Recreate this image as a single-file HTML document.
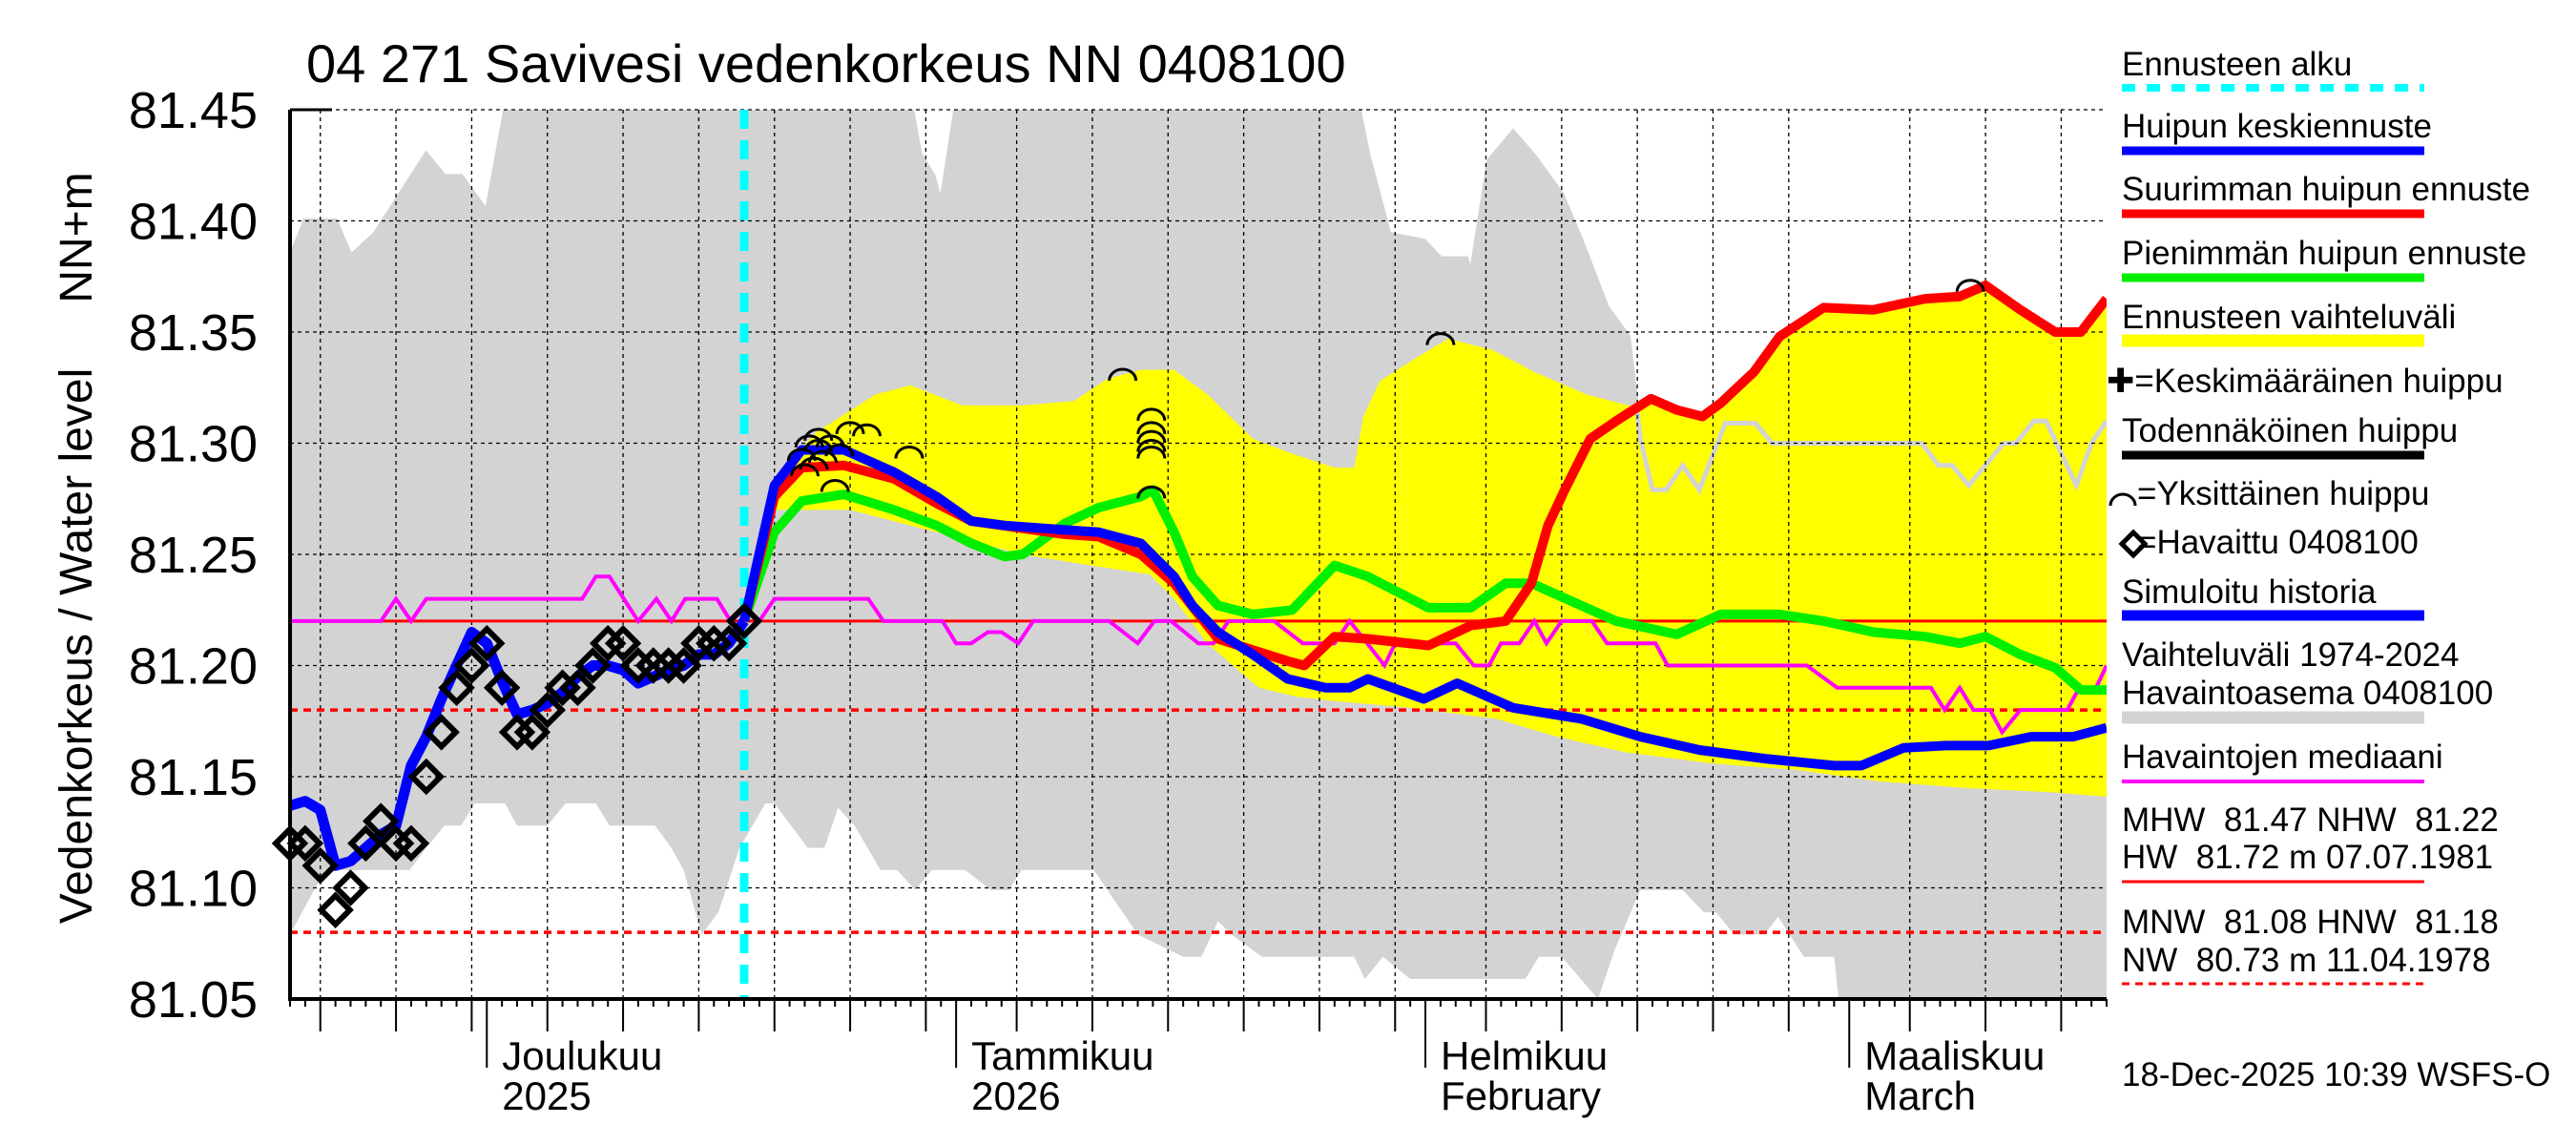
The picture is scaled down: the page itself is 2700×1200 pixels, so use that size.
<!DOCTYPE html>
<html><head><meta charset="utf-8"><style>
html,body{margin:0;padding:0;background:#fff;}
svg{display:block;font-family:"Liberation Sans",Arial,sans-serif;}
</style></head><body>
<svg id="chart" width="2700" height="1200" viewBox="0 0 2700 1200" xmlns="http://www.w3.org/2000/svg">
<defs><clipPath id="plotclip"><rect x="304" y="115" width="1904" height="932"/></clipPath></defs>
<text x="321" y="86" font-size="56">04 271 Savivesi vedenkorkeus NN 0408100</text>
<text transform="translate(96,677) rotate(-90)" text-anchor="middle" font-size="48">Vedenkorkeus / Water level</text>
<text transform="translate(96,249) rotate(-90)" text-anchor="middle" font-size="48">NN+m</text>
<g id="bands" clip-path="url(#plotclip)"></g>
<g id="grid"></g>
<g id="series" clip-path="url(#plotclip)"></g>
<g id="marks"></g>
<g id="axes"></g>
<g id="legend" font-size="35">
<text x="2224" y="79">Ennusteen alku</text>
<line x1="2224" y1="92" x2="2541" y2="92" stroke="#00ffff" stroke-width="8" stroke-dasharray="14,12"/>
<text x="2224" y="144">Huipun keskiennuste</text>
<line x1="2224" y1="158" x2="2541" y2="158" stroke="#0000ff" stroke-width="9"/>
<text x="2224" y="210">Suurimman huipun ennuste</text>
<line x1="2224" y1="224" x2="2541" y2="224" stroke="#ff0000" stroke-width="9"/>
<text x="2224" y="277">Pienimmän huipun ennuste</text>
<line x1="2224" y1="291" x2="2541" y2="291" stroke="#00ee00" stroke-width="9"/>
<text x="2224" y="344">Ennusteen vaihteluväli</text>
<line x1="2224" y1="357" x2="2541" y2="357" stroke="#ffff00" stroke-width="13"/>
<text x="2208" y="411">✚=Keskimääräinen huippu</text>
<text x="2224" y="463">Todennäköinen huippu</text>
<line x1="2224" y1="477" x2="2541" y2="477" stroke="#000" stroke-width="9"/>
<path d="M2212,530 a13,12 0 0 1 26,0" fill="none" stroke="#000" stroke-width="3"/>
<text x="2240" y="529">=Yksittäinen huippu</text>
<path d="M2224,570 l12,-12 l12,12 l-12,12 z" fill="none" stroke="#000" stroke-width="5"/>
<text x="2240" y="580">=Havaittu 0408100</text>
<text x="2224" y="632">Simuloitu historia</text>
<line x1="2224" y1="645" x2="2541" y2="645" stroke="#0000ff" stroke-width="11"/>
<text x="2224" y="698">Vaihteluväli 1974-2024</text>
<text x="2224" y="738">Havaintoasema 0408100</text>
<line x1="2224" y1="752" x2="2541" y2="752" stroke="#d3d3d3" stroke-width="13"/>
<text x="2224" y="805">Havaintojen mediaani</text>
<line x1="2224" y1="819" x2="2541" y2="819" stroke="#ff00ff" stroke-width="4"/>
<text x="2224" y="871" xml:space="preserve">MHW  81.47 NHW  81.22</text>
<text x="2224" y="910" xml:space="preserve">HW  81.72 m 07.07.1981</text>
<line x1="2224" y1="924" x2="2541" y2="924" stroke="#ff0000" stroke-width="3"/>
<text x="2224" y="978" xml:space="preserve">MNW  81.08 HNW  81.18</text>
<text x="2224" y="1018" xml:space="preserve">NW  80.73 m 11.04.1978</text>
<line x1="2224" y1="1031" x2="2541" y2="1031" stroke="#ff0000" stroke-width="3" stroke-dasharray="8,6"/>
<text x="2224" y="1138">18-Dec-2025 10:39 WSFS-O</text>
</g>
</svg>
<script>
// ---- data (day index: 0 = 18 Nov 2025) ----
const yTicks = [81.05,81.10,81.15,81.20,81.25,81.30,81.35,81.40,81.45];
const obsValues = [81.12,81.12,81.11,81.09,81.10,81.12,81.13,81.12,81.12,81.15,81.17,81.19,81.20,81.21,81.19,81.17,81.17,81.18,81.19,81.19,81.20,81.21,81.21,81.20,81.20,81.20,81.20,81.21,81.21,81.21,81.22];
const simValues = [81.137,81.139,81.135,81.11,81.112,81.118,81.124,81.128,81.155,81.168,81.185,81.2,81.215,81.21,81.193,81.178,81.18,81.183,81.188,81.195,81.2,81.2,81.198,81.192,81.195,81.198,81.2,81.205,81.205,81.21,81.22];
const greyUpDays = [0,1,3,4,5.6,9,10.2,11.3,13,14.5,40.8,41.6,42.5,43,44.2,70.3,71.2,72.6,74.9,76,77.7,78,79.2,80.8,82.2,84,85.3,87,88.4,89.2,90,90.9,92,93.1,94.8,96.8,97.9,107.8,108.9,109.8,110.9,113.2,114,115.2,116,118,119,120];
const greyUpValues = [81.383,81.40,81.40,81.384,81.394,81.43,81.42,81.42,81.404,81.46,81.46,81.43,81.42,81.407,81.46,81.46,81.43,81.394,81.391,81.383,81.383,81.375,81.427,81.44,81.429,81.412,81.391,81.361,81.348,81.302,81.279,81.279,81.29,81.279,81.309,81.309,81.30,81.30,81.29,81.29,81.281,81.30,81.30,81.31,81.31,81.281,81.30,81.31];
const greyLoDays = [0,0.8,2.3,7.9,9,10.2,11.3,12.2,14.2,15,17,18.2,20.2,21.1,24.1,25.2,26,27.2,28.3,29.7,31.4,32,34.2,35.3,36.2,37.3,39,40.1,41.3,42.4,44.6,46.3,47.5,48.3,53.1,56,59,60.2,61.3,62.2,64.2,70.3,71,72.2,74,81.6,82.5,84,86.4,87.5,89.2,92,93.4,94.2,95.4,97.4,98.3,100,102,102.3,120];
const greyLoValues = [81.079,81.089,81.108,81.108,81.118,81.128,81.128,81.138,81.138,81.128,81.128,81.138,81.138,81.128,81.128,81.118,81.108,81.079,81.089,81.118,81.138,81.138,81.118,81.118,81.136,81.128,81.108,81.108,81.099,81.108,81.108,81.099,81.099,81.108,81.108,81.079,81.069,81.069,81.085,81.079,81.069,81.069,81.059,81.069,81.059,81.059,81.069,81.069,81.05,81.072,81.099,81.099,81.089,81.089,81.079,81.079,81.087,81.069,81.069,81.05,81.05];
const yelUpDays = [30,32.5,34.8,38.7,41,44.4,48.4,51.8,54,56.2,58.4,60.6,63.6,65.9,69,70.3,70.9,72,74.3,76.5,79.4,82.2,85.6,89,89.9,91.6,93.3,94.5,96.7,98.4,101.3,104.6,108,110.3,112,114.3,116.6,118.3,120];
const yelUpValues = [81.22,81.289,81.305,81.322,81.326,81.317,81.317,81.319,81.329,81.333,81.333,81.322,81.302,81.296,81.289,81.289,81.312,81.328,81.338,81.347,81.342,81.332,81.322,81.316,81.32,81.315,81.312,81.318,81.332,81.348,81.361,81.36,81.365,81.366,81.371,81.36,81.35,81.35,81.365];
const yelLoDays = [30,32,37,42.7,48.4,52.9,56.8,58.4,60.6,62.8,64,66.5,69,74,79.7,83.7,88.2,93.9,99.6,104.9,110.6,116.3,120];
const yelLoValues = [81.22,81.27,81.27,81.26,81.25,81.245,81.241,81.23,81.21,81.197,81.19,81.186,81.184,81.181,81.176,81.168,81.161,81.156,81.153,81.148,81.145,81.143,81.141];
const blueDays = [30,32,33.8,36.6,39.9,42.7,45,47.2,51.2,53.4,56.2,58.4,59.6,61.3,63.6,65.9,68.4,70,71.2,74.9,77.1,80.8,85.3,89.2,93.1,97.6,102,103.8,106.6,109.4,112.2,115,117.8,120];
const blueValues = [81.22,81.281,81.297,81.297,81.287,81.276,81.265,81.263,81.261,81.26,81.255,81.24,81.227,81.215,81.205,81.194,81.19,81.19,81.194,81.185,81.192,81.181,81.176,81.168,81.162,81.158,81.155,81.155,81.163,81.164,81.164,81.168,81.168,81.172];
const redDays = [30,32,33.8,36.6,39.9,42.7,45,51.2,53.4,56.2,58.4,61.3,63.6,65.9,67,69,71.2,75.2,78,80.3,82,83.1,84.2,85.9,87.6,89.9,91.6,93.3,94.5,96.7,98.4,101.3,104.6,108,110.3,112,114.3,116.6,118.3,120];
const redValues = [81.22,81.276,81.289,81.29,81.284,81.273,81.265,81.259,81.258,81.25,81.237,81.212,81.207,81.202,81.2,81.213,81.212,81.209,81.218,81.22,81.237,81.263,81.279,81.302,81.31,81.32,81.315,81.312,81.318,81.332,81.348,81.361,81.36,81.365,81.366,81.371,81.36,81.35,81.35,81.365];
const greenDays = [30,32,33.8,36.6,39.9,42.7,45,47.2,48.4,51.2,53.4,56.2,57,58.4,59.6,61.3,63.6,66.2,69,71.2,75.2,78,80.3,82,87.6,91.6,94.5,98.4,101.3,104.6,108,110.3,112,114.3,116.6,118.3,120];
const greenValues = [81.22,81.26,81.274,81.277,81.27,81.263,81.255,81.249,81.25,81.264,81.271,81.276,81.279,81.26,81.24,81.227,81.223,81.225,81.245,81.24,81.226,81.226,81.237,81.237,81.22,81.214,81.223,81.223,81.22,81.215,81.213,81.21,81.213,81.205,81.199,81.189,81.189];
const medDays = [0,6,7,8,9,19.3,20.2,21.1,23,24.2,25.2,26.1,28.2,29.1,30,31,32,38.2,39.2,43.1,44,45,46.1,47,48.1,49.1,54.1,56,57.1,58.2,60,61,62,65,66.9,69,70,72.3,73,77,78.2,79.2,80,81.2,82.2,83,84,86,87,90.2,91,100.2,102.2,108.4,109.3,110.3,111.2,112.3,113.1,114.3,117.4,118.2,119.3,120];
const medValues = [81.22,81.22,81.23,81.22,81.23,81.23,81.24,81.24,81.22,81.23,81.22,81.23,81.23,81.22,81.225,81.22,81.23,81.23,81.22,81.22,81.21,81.21,81.215,81.215,81.21,81.22,81.22,81.21,81.22,81.22,81.21,81.21,81.22,81.22,81.21,81.21,81.22,81.20,81.21,81.21,81.20,81.20,81.21,81.21,81.22,81.21,81.22,81.22,81.21,81.21,81.20,81.20,81.19,81.19,81.18,81.19,81.18,81.18,81.17,81.18,81.18,81.19,81.19,81.20];
const peakDays = [33.8,34.3,34.9,35.2,34.6,34.0,34.9,35.7,36,36.3,37,38.1,40.9,55,56.9,56.9,56.9,56.9,56.9,56.9,76,111];
const peakValues = [81.296,81.302,81.300,81.295,81.292,81.289,81.305,81.302,81.282,81.298,81.308,81.307,81.297,81.332,81.314,81.308,81.304,81.300,81.297,81.279,81.348,81.372];
const refSolid = [81.22];
const refDashed = [81.18,81.08];
const forecastStartDay = 30;
const monthLabels = [["Joulukuu","2025"],["Tammikuu","2026"],["Helmikuu","February"],["Maaliskuu","March"]];

// ---- axes ----
const X0=304, X1=2208, Y0=115, Y1=1047, NDAYS=120;
const x = d => X0 + d*(X1-X0)/NDAYS;
const y = v => Y0 + (81.45 - v)/0.4*(Y1-Y0);
const NS="http://www.w3.org/2000/svg";
function mk(tag, parent, attrs){const e=document.createElementNS(NS,tag);for(const k in attrs)e.setAttribute(k,attrs[k]);parent.appendChild(e);return e;}
function pts(ds,vs){return ds.map((d,i)=>x(d).toFixed(1)+","+y(vs[i]).toFixed(1)).join(" ");}
const bands=document.getElementById('bands'), grid=document.getElementById('grid'), series=document.getElementById('series'), axes=document.getElementById('axes'), marks=document.getElementById('marks');

const gp = pts(greyUpDays,greyUpValues)+" "+pts(greyLoDays.slice().reverse(),greyLoValues.slice().reverse());
const grey=mk('polygon',bands,{points:gp,fill:'#d3d3d3'});


const yp = pts(yelUpDays,yelUpValues)+" "+pts(yelLoDays.slice().reverse(),yelLoValues.slice().reverse());
const yel=mk('polygon',bands,{points:yp,fill:'#ffff00'});


const gl=mk('polyline',bands,{points:pts(greyUpDays,greyUpValues),fill:'none',stroke:'#d3d3d3','stroke-width':5});



const start=new Date(2025,10,18);
let mi=0;
for(let d=0; d<=NDAYS; d++){
  const dt=new Date(start.getTime()+d*86400000+3600000*12);
  const dom=dt.getDate();
  const xx=x(d);
  let len=8;
  if(dom%5===0){
    const g=mk('line',grid,{x1:xx,y1:Y0,x2:xx,y2:Y1,stroke:'#000','stroke-width':1.3,'stroke-dasharray':'4,4'});
    
    
    len=34;
  }
  if(dom===1){
    len=72;
    const lab=monthLabels[mi++];
    const t1=mk('text',axes,{x:xx+16,y:1121,'font-size':42});
    t1.textContent=lab[0];
    
    
    const t2=mk('text',axes,{x:xx+16,y:1163,'font-size':42});
    t2.textContent=lab[1];
    
    
  }
  const tk=mk('line',axes,{x1:xx,y1:Y1,x2:xx,y2:Y1+len,stroke:'#000','stroke-width':2});
  
  
}
yTicks.forEach(v=>{
  if(v>81.05){
    const g=mk('line',grid,{x1:X0,y1:y(v),x2:X1,y2:y(v),stroke:'#000','stroke-width':1.3,'stroke-dasharray':'4,4'});
    
    
  }
  const t=mk('text',axes,{x:270,y:y(v)+19,'font-size':54,'text-anchor':'end'});
  t.textContent=v.toFixed(2);
  
  
});
const topTick=mk('line',axes,{x1:X0,y1:Y0,x2:348,y2:Y0,stroke:'#000','stroke-width':3});


const ya=mk('line',axes,{x1:X0,y1:Y0,x2:X0,y2:Y1+2,stroke:'#000','stroke-width':4});


const xa=mk('line',axes,{x1:X0,y1:Y1,x2:X1,y2:Y1,stroke:'#000','stroke-width':4});



refSolid.forEach(v=>{
  const l=mk('line',series,{x1:X0,y1:y(v),x2:X1,y2:y(v),stroke:'#ff0000','stroke-width':3});
  
  
});
refDashed.forEach(v=>{
  const l=mk('line',series,{x1:X0,y1:y(v),x2:X1,y2:y(v),stroke:'#ff0000','stroke-width':3.5,'stroke-dasharray':'8,6'});
  
  
});
const med=mk('polyline',series,{points:pts(medDays,medValues),fill:'none',stroke:'#ff00ff','stroke-width':4});


const fs=mk('line',series,{x1:x(forecastStartDay),y1:Y0,x2:x(forecastStartDay),y2:Y1,stroke:'#00ffff','stroke-width':9,'stroke-dasharray':'20,12'});


const gr=mk('polyline',series,{points:pts(greenDays,greenValues),fill:'none',stroke:'#00ee00','stroke-width':10,'stroke-linejoin':'round'});


const rd=mk('polyline',series,{points:pts(redDays,redValues),fill:'none',stroke:'#ff0000','stroke-width':10,'stroke-linejoin':'round'});


const bl=mk('polyline',series,{points:pts(blueDays,blueValues),fill:'none',stroke:'#0000ff','stroke-width':10,'stroke-linejoin':'round'});


const simDays=simValues.map((v,i)=>i);
const sm=mk('polyline',series,{points:pts(simDays,simValues),fill:'none',stroke:'#0000ff','stroke-width':11,'stroke-linejoin':'round'});


obsValues.forEach((v,i)=>{
  const cx=x(i), cy=y(v);
  const p=mk('path',marks,{d:`M${cx-15},${cy} L${cx},${cy-15} L${cx+15},${cy} L${cx},${cy+15} Z`,fill:'none',stroke:'#000','stroke-width':6});
  
  
});
peakDays.forEach((d,i)=>{
  const cx=x(d), cy=y(peakValues[i]);
  const p=mk('path',series,{d:`M${cx-14},${cy+9} A14,12 0 0 1 ${cx+14},${cy+9}`,fill:'none',stroke:'#000','stroke-width':3});
  
  
});
</script>
</body></html>
